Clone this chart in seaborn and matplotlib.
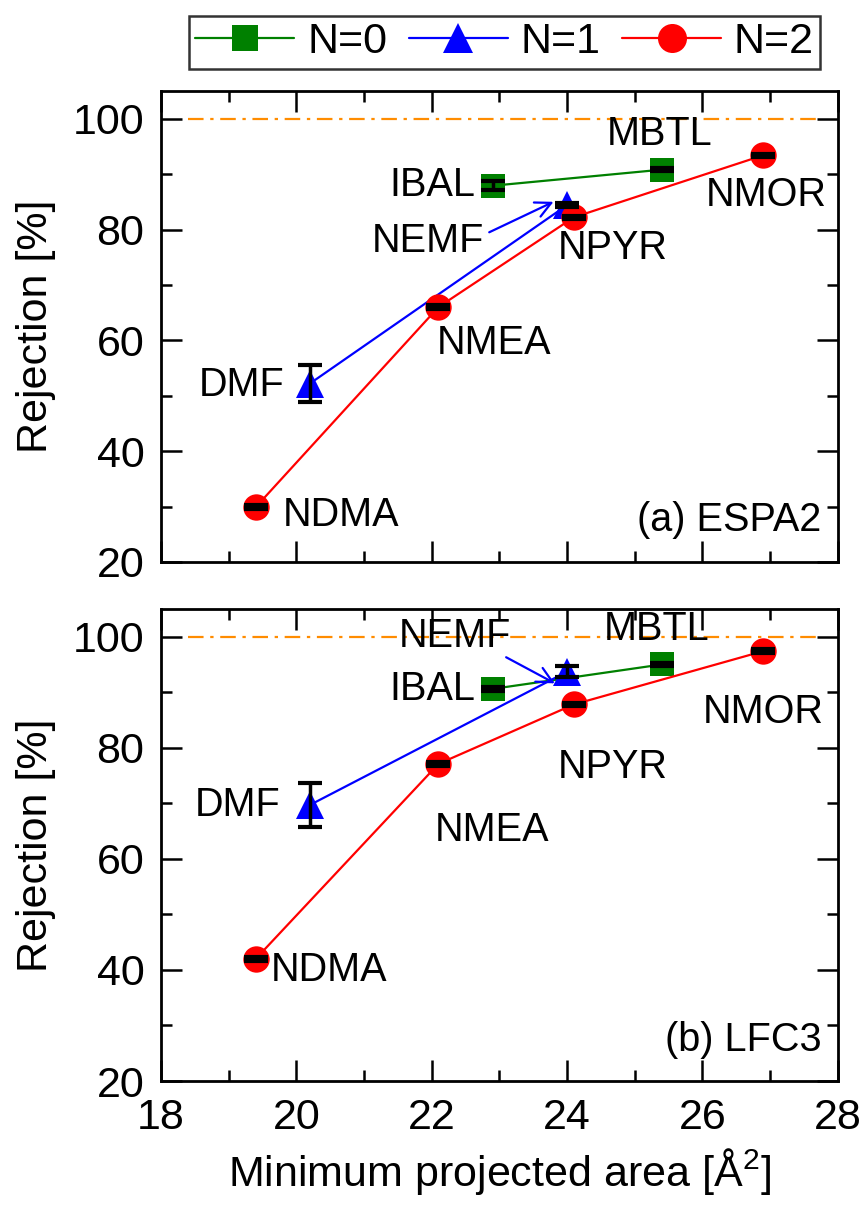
#!/usr/bin/env python3
# -*- coding: utf-8 -*-

import matplotlib
matplotlib.use("Agg")
import matplotlib.pyplot as plt
from matplotlib.ticker import MultipleLocator
import seaborn as sns

# ---------------------------
# Data
# ---------------------------
series = ["N=0", "N=1", "N=2"]

# minimum projected area [Å^2]
area_n0 = [22.9, 25.4]
area_n1 = [20.2, 24.0]
area_n2 = [19.4, 22.1, 24.1, 26.9]

names_n0 = ["IBAL", "MBTL"]
names_n1 = ["DMF", "NEMF"]
names_n2 = ["NDMA", "NMEA", "NPYR", "NMOR"]

# (a) ESPA2 rejection [%]
espa2_n0 = [87.9, 90.8]
espa2_n0_err = [0.8, 0.3]
espa2_n1 = [52.2, 84.4]
espa2_n1_err = [3.3, 0.4]
espa2_n2 = [29.9, 66.0, 82.2, 93.4]
espa2_n2_err = [0.3, 0.3, 0.3, 0.3]

# (b) LFC3 rejection [%]
lfc3_n0 = [90.6, 95.0]
lfc3_n0_err = [0.3, 0.3]
lfc3_n1 = [69.7, 93.7]
lfc3_n1_err = [4.0, 1.0]
lfc3_n2 = [42.0, 77.1, 87.8, 97.4]
lfc3_n2_err = [0.3, 0.3, 0.3, 0.3]

panel_titles = ["(a) ESPA2", "(b) LFC3"]

# ---------------------------
# Style
# ---------------------------
sns.set_style("ticks")
plt.rcParams['font.family'] = ['Liberation Sans', 'DejaVu Sans']
plt.rcParams['mathtext.fontset'] = 'custom'
plt.rcParams['mathtext.rm'] = 'Liberation Sans'
plt.rcParams['mathtext.it'] = 'Liberation Sans'
for key in ['text.color', 'axes.labelcolor', 'xtick.color', 'ytick.color', 'axes.edgecolor']:
    plt.rcParams[key] = 'black'

colors = {"N=0": "#008000", "N=1": "#0000ff", "N=2": "#ff0000"}
markers = {"N=0": "s", "N=1": "^", "N=2": "o"}
msizes = {"N=0": 17, "N=1": 20, "N=2": 19}

fig = plt.figure(figsize=(8.61, 12.13), dpi=100)
ax_top = fig.add_axes([0.187, 0.5367, 0.786, 0.3883])
ax_bot = fig.add_axes([0.187, 0.1088, 0.786, 0.3892])

panels = [
    (ax_top, [espa2_n0, espa2_n1, espa2_n2], [espa2_n0_err, espa2_n1_err, espa2_n2_err]),
    (ax_bot, [lfc3_n0, lfc3_n1, lfc3_n2], [lfc3_n0_err, lfc3_n1_err, lfc3_n2_err]),
]
areas = [area_n0, area_n1, area_n2]

for ax, ys, errs in panels:
    ax.axhline(100, xmin=0.04, xmax=0.977, color="#ff8c00", lw=1.6,
               ls=(0, (7, 3, 1.5, 3)), zorder=1)
    for name, xs, yv, ev in zip(series, areas, ys, errs):
        sns.lineplot(x=xs, y=yv, ax=ax, color=colors[name], marker=markers[name],
                     markersize=msizes[name], markeredgewidth=0, lw=1.6,
                     sort=False, label=name, zorder=3)
        ax.errorbar(xs, yv, yerr=ev, fmt="none", ecolor="black", elinewidth=2.5,
                    capsize=8.5, capthick=3, zorder=4)

    ax.set_xlim(18, 28)
    ax.set_ylim(20, 105)
    ax.xaxis.set_major_locator(MultipleLocator(2))
    ax.xaxis.set_minor_locator(MultipleLocator(1))
    ax.yaxis.set_major_locator(MultipleLocator(20))
    ax.yaxis.set_minor_locator(MultipleLocator(10))
    ax.tick_params(which="both", direction="in", top=True, right=True,
                   width=1.8, labelsize=31, color="black", labelcolor="black")
    ax.tick_params(which="major", length=15, pad=12)
    ax.tick_params(which="minor", length=8)
    for sp in ax.spines.values():
        sp.set_linewidth(2)
        sp.set_color("black")
    ax.set_ylabel("Rejection [%]", fontsize=31, labelpad=12)
    ax.get_legend().remove()

ax_top.tick_params(labelbottom=False)
ax_bot.set_xlabel("Minimum projected area [Å$^2$]", fontsize=31, labelpad=6)

lab = dict(fontsize=28.5, color="black", va="center")

# panel (a) labels
ax_top.text(25.37, 97.3, "MBTL", ha="center", **lab)
ax_top.text(22.64, 88.0, "IBAL", ha="right", **lab)
ax_top.text(26.95, 86.3, "NMOR", ha="center", **lab)
ax_top.text(24.68, 76.6, "NPYR", ha="center", **lab)
ax_top.text(22.92, 59.6, "NMEA", ha="center", **lab)
ax_top.text(19.83, 51.9, "DMF", ha="right", **lab)
ax_top.text(19.80, 28.5, "NDMA", ha="left", **lab)
ax_top.text(22.78, 78.0, "NEMF", ha="right", **lab)
ax_top.annotate("", xy=(23.8, 85.0), xytext=(22.85, 79.5),
                arrowprops=dict(arrowstyle="->", color="blue", lw=1.6,
                                mutation_scale=28, shrinkA=0, shrinkB=0))
ax_top.text(27.76, 27.6, panel_titles[0], ha="right", **lab)

# panel (b) labels
ax_bot.text(22.34, 100.2, "NEMF", ha="center", **lab)
ax_bot.annotate("", xy=(23.82, 91.6), xytext=(23.1, 96.3),
                arrowprops=dict(arrowstyle="->", color="blue", lw=1.6,
                                mutation_scale=28, shrinkA=0, shrinkB=0))
ax_bot.text(25.33, 101.3, "MBTL", ha="center", **lab)
ax_bot.text(22.64, 90.5, "IBAL", ha="right", **lab)
ax_bot.text(26.90, 86.5, "NMOR", ha="center", **lab)
ax_bot.text(24.68, 76.6, "NPYR", ha="center", **lab)
ax_bot.text(22.89, 65.2, "NMEA", ha="center", **lab)
ax_bot.text(19.76, 69.7, "DMF", ha="right", **lab)
ax_bot.text(19.62, 40.0, "NDMA", ha="left", **lab)
ax_bot.text(27.76, 27.4, panel_titles[1], ha="right", **lab)

# legend above the panels
handles, labels = ax_top.get_legend_handles_labels()
leg = fig.legend(handles[:3], labels[:3], loc="center", bbox_to_anchor=(0.586, 0.965),
                 ncol=3, fontsize=31, frameon=True, fancybox=False, markerscale=1.1,
                 handlelength=2.3, handletextpad=0.3, columnspacing=0.5,
                 borderpad=0.15, borderaxespad=0)
leg.get_frame().set_edgecolor("black")
leg.get_frame().set_linewidth(1.8)

fig.savefig("out.png", dpi=100)
